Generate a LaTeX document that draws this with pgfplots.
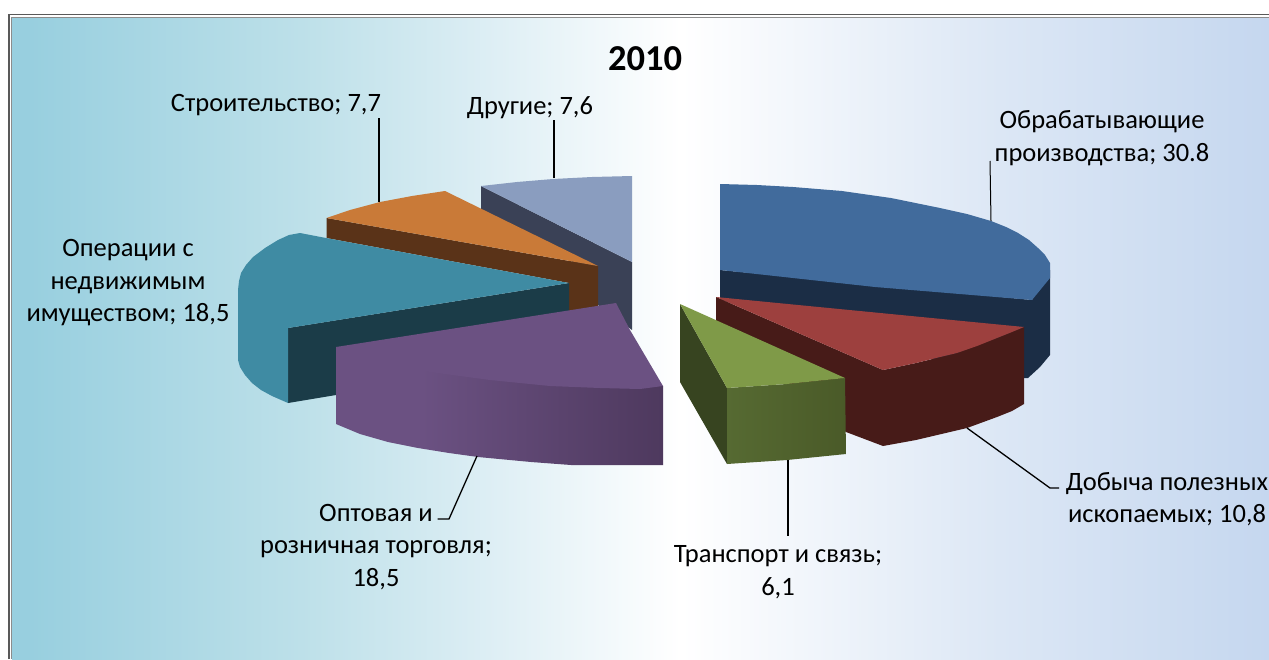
\documentclass[border=0pt]{standalone}
\usepackage{fontspec}
\setmainfont{Carlito}
\usepackage{pgfplots}
\pgfplotsset{compat=1.18}
\definecolor{bgA}{HTML}{98CFDF}
\definecolor{bgB}{HTML}{BDE0E9}
\definecolor{bgC}{HTML}{DFEFF5}
\definecolor{bgD}{HTML}{FFFFFF}
\definecolor{bgE}{HTML}{DCE7F5}
\definecolor{bgF}{HTML}{C5D7EF}
\pgfdeclarehorizontalshading{bgshade}{100bp}{color(0bp)=(bgA); color(25.7bp)=(bgA); color(36.5bp)=(bgB); color(44.4bp)=(bgC); color(51.6bp)=(bgD); color(64.3bp)=(bgE); color(75bp)=(bgF); color(100bp)=(bgF)}
\definecolor{blueT}{HTML}{416B9C}
\definecolor{blueD}{HTML}{1B2D45}
\definecolor{redT}{HTML}{9D403E}
\definecolor{redD}{HTML}{471B18}
\definecolor{greenT}{HTML}{7F9A48}
\definecolor{greenD}{HTML}{374420}
\definecolor{greenL}{HTML}{566A32}
\definecolor{greenR}{HTML}{4A5A28}
\definecolor{purpT}{HTML}{6B5182}
\definecolor{purpR}{HTML}{4E395E}
\definecolor{tealT}{HTML}{3F8BA3}
\definecolor{tealD}{HTML}{1B3C48}
\definecolor{orT}{HTML}{C97A38}
\definecolor{orD}{HTML}{5A3318}
\definecolor{grT}{HTML}{8A9DBF}
\definecolor{grD}{HTML}{3A4156}
\pgfdeclarehorizontalshading{purpshade}{100bp}{color(0bp)=(purpT); color(38bp)=(purpT); color(75bp)=(purpR); color(100bp)=(purpR)}
\newcommand{\lbl}{\fontsize{26.5}{32.5}\selectfont}
\tikzset{lab/.style={font=\lbl, align=center, anchor=center, inner sep=0pt, text=black}}
\begin{document}
\begin{tikzpicture}
\begin{axis}[
  scale only axis, width=1269pt, height=659pt,
  xmin=0, xmax=1269, ymin=0, ymax=659, y dir=reverse,
  hide axis, clip=true,
]
% page and panel
\addplot[fill=white,draw=none] coordinates {(0,0)(1269,0)(1269,659)(0,659)};
\addplot[shading=bgshade,draw=none] coordinates {(12,18)(1269,18)(1269,659)(12,659)};
\addplot[draw=black!65,line width=1.2pt] coordinates {(9,659)(9,14.5)(1269,14.5)};
\addplot[draw=black!45,line width=1pt] coordinates {(11.5,659)(11.5,17)(1269,17)};

% Другие
\addplot[fill=grD,draw=none] coordinates {(481,186)(632,262)(632,330)(598,305)(598,275)(481,215)};
\addplot[fill=grT,draw=none] coordinates {(481,186)(517,182)(553,179)(592,177)(632,176)(632,262)};
% Строительство
\addplot[fill=orD,draw=none] coordinates {(326.5,218)(598,266)(598,308)(569,312)(569,283)(326.5,238)};
\addplot[fill=orT,draw=none] coordinates {(326.5,218)(350,210)(380,202)(412,196)(445,191)(598,266)};
% Операции с недвижимым имуществом
\addplot[fill=tealD,draw=none] coordinates {(288,328)(569,283)(569,320)(336,395)(288,403)};
\addplot[fill=tealT,draw=none] coordinates {(300,233)(326,238)(569,283)(288,328)(288,403)(272,396)(261,390)(252,383)(245,375)(240,367)(238,360)(238,290)(239,281)(241,273)(246,265)(253,257)(265,248)(278,240)(289,235)};
% Оптовая и розничная торговля
\addplot[shading=purpshade,draw=none] coordinates {(336,347)(430,362)(550,376)(640,385)(663,386)(663,465)(640,465)(605,465)(571,465)(531,462)(478,457)(449,453)(418,448)(388,442)(360,434)(336,424)};
\addplot[fill=purpT,draw=none] coordinates {(616,303)(630,330)(663,386)(640,389)(600,388)(550,386)(490,380)(430,372)(384,363)(360,356)(336,347)};
% Обрабатывающие производства
\addplot[fill=blueD,draw=none] coordinates {(720,270)(1032,300)(1050,270)(1050,355)(1040,367)(1028,378)(1000,378)(720,300)};
\addplot[fill=blueT,draw=none] coordinates {(720,184)(757,185)(793,187)(842,191)(891,198)(940,208)(967,214)(991,221)(1006,227)(1018,233)(1029,240)(1038,248)(1045,255)(1050,263)(1050,278)(1032,300)(875,287)(720,270)};
% Добыча полезных ископаемых
\addplot[fill=redD,draw=none] coordinates {(716,297)(883,370)(916,363)(957,353)(997,338)(1024,327)(1024,404)(1012,411)(997,417)(967,428)(916,440)(883,446)(846,432)(716,322)};
\addplot[fill=redT,draw=none] coordinates {(716,297)(1024,327)(1012,332)(997,338)(977,346)(957,353)(936,358)(916,363)(883,370)};
% Транспорт и связь
\addplot[fill=greenD,draw=none] coordinates {(680,304)(727,388)(727,464)(680,382)};
\addplot[shading=axis,left color=greenL,right color=greenR,draw=none] coordinates {(727,388)(787,384)(845,378)(846,454)(787,460)(727,464)};
\addplot[fill=greenT,draw=none] coordinates {(680,304)(845,378)(787,384)(727,388)};

% leader lines
\addplot[black,line width=1.3pt] coordinates {(379,118)(379,202)};
\addplot[black,line width=1.3pt] coordinates {(554,120)(554,178)};
\addplot[black,line width=1pt] coordinates {(990,161)(991,221)};
\addplot[black,line width=1.3pt] coordinates {(967,428)(1050,488)(1059,488)};
\addplot[black,line width=1.3pt] coordinates {(788,460)(788,536)};
\addplot[black,line width=1.3pt] coordinates {(477,456)(449,519)(437.5,519)};

% labels
\node[font=\fontsize{36.5}{40}\selectfont\bfseries] at (axis cs:645,59) {2010};
\node[lab] at (axis cs:276,105) {Строительство; 7,7};
\node[lab] at (axis cs:530,108) {Другие; 7,6};
\node[lab] at (axis cs:128,283) {Операции с\\недвижимым\\имуществом; 18,5};
\node[lab] at (axis cs:1102,138) {Обрабатывающие\\производства; 30.8};
\node[lab] at (axis cs:1167,499) {Добыча полезных\\ископаемых; 10,8};
\node[lab] at (axis cs:778,572) {Транспорт и связь;\\6,1};
\node[lab] at (axis cs:376,547) {Оптовая и\\розничная торговля;\\18,5};
\end{axis}
\end{tikzpicture}
\end{document}
